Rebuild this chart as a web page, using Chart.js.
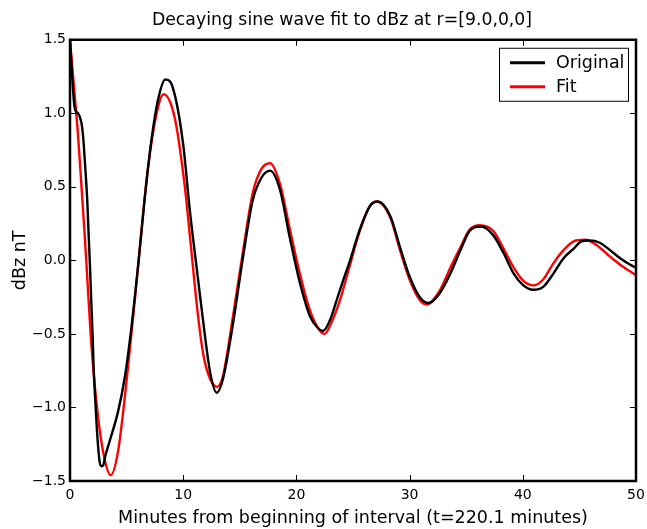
<!DOCTYPE html>
<html>
<head>
<meta charset="utf-8">
<script src="https://cdn.jsdelivr.net/npm/chart.js@4.4.1/dist/chart.umd.min.js"></script>
<style>
  html, body { margin: 0; padding: 0; background: #fff; }
  #wrap { width: 647px; height: 529px; }
</style>
</head>
<body>
<div id="wrap"><canvas id="fit-chart" width="647" height="529"></canvas></div>
<script>
// 原始数据 (minutes, dBz nT)
const originalSeries = [
    [0, 1.50], [0.41, 1.04], [0.71, 1.00], [1.0, 0.94], [1.15, 0.85], [1.35, 0.63],
    [1.53, 0.40], [1.65, 0.17], [1.77, -0.05], [1.88, -0.28], [2.0, -0.51], [2.09, -0.73],
    [2.24, -0.96], [2.41, -1.19], [2.62, -1.37], [2.8, -1.40], [2.95, -1.39], [3.12, -1.33],
    [3.5, -1.23], [4.24, -1.03], [4.83, -0.80], [5.42, -0.46], [6.0, -0.05], [6.6, 0.42],
    [7.18, 0.81], [7.77, 1.09], [8.42, 1.23], [9.1, 1.17], [9.98, 0.80], [10.6, 0.33],
    [11.3, -0.12], [11.9, -0.50], [12.4, -0.77], [12.96, -0.90], [13.5, -0.81], [14.4, -0.43],
    [15.3, 0.03], [16.15, 0.41], [16.9, 0.56], [17.67, 0.61], [18.55, 0.48], [19.4, 0.16],
    [20.3, -0.15], [21.2, -0.38], [21.9, -0.46], [22.35, -0.48], [23.0, -0.40], [23.56, -0.27],
    [24.2, -0.12], [24.7, -0.01], [25.6, 0.21], [26.5, 0.37], [27.2, 0.40], [28.3, 0.30],
    [29.15, 0.09], [30.0, -0.11], [30.9, -0.25], [31.65, -0.29], [32.6, -0.23], [33.6, -0.09],
    [34.5, 0.07], [35.3, 0.20], [36.3, 0.23], [37.4, 0.17], [38.3, 0.05], [39.2, -0.09],
    [40.05, -0.17], [40.9, -0.20], [41.8, -0.18], [42.7, -0.09], [43.6, 0.015], [44.5, 0.08],
    [45.2, 0.13], [45.9, 0.135], [46.8, 0.12], [47.7, 0.07], [48.6, 0.015], [49.5, -0.03],
    [50, -0.05]
];

// 拟合曲线 (minutes, dBz nT)
const fitSeries = [
    [0, 1.50], [0.35, 1.18], [0.71, 0.85], [1.0, 0.52], [1.30, 0.17], [1.55, -0.15],
    [1.83, -0.51], [2.33, -0.96], [2.92, -1.30], [3.59, -1.46], [4.24, -1.30], [5.12, -0.73],
    [6.0, -0.05], [6.89, 0.63], [7.77, 1.04], [8.27, 1.13], [9.25, 0.97], [10.13, 0.51],
    [10.6, 0.16], [11.3, -0.37], [11.8, -0.65], [12.4, -0.81], [13.0, -0.86], [13.5, -0.79],
    [14.4, -0.38], [15.3, 0.07], [16.15, 0.46], [16.9, 0.62], [17.67, 0.66], [18.55, 0.52],
    [19.4, 0.22], [20.3, -0.09], [21.2, -0.34], [22.0, -0.47], [22.5, -0.50], [23.0, -0.44],
    [23.85, -0.27], [24.7, -0.04], [25.6, 0.20], [26.5, 0.37], [27.1, 0.40], [28.3, 0.29],
    [29.15, 0.07], [30.0, -0.13], [30.9, -0.27], [31.5, -0.30], [32.7, -0.20], [33.6, -0.05],
    [34.5, 0.09], [35.3, 0.21], [36.2, 0.24], [37.4, 0.20], [38.3, 0.08], [39.2, -0.05],
    [40.05, -0.14], [40.9, -0.17], [41.8, -0.13], [42.7, -0.02], [43.6, 0.07], [44.5, 0.13],
    [45.5, 0.14], [46.5, 0.105], [47.7, 0.026], [48.6, -0.03], [49.5, -0.076], [50, -0.10]
];

const xTicks = [0, 10, 20, 30, 40, 50];
const yTicks = [-1.5, -1.0, -0.5, 0.0, 0.5, 1.0, 1.5];

const FONT = 'DejaVu Sans';

function toPoints(series) {
    return series.map(p => ({ x: p[0], y: p[1] }));
}

// 标题稍微向左移动（与原图对齐）
const titleShift = {
    id: 'titleShift',
    afterLayout(chart) {
        const tb = chart.titleBlock;
        if (tb) {
            tb.left -= 11;
            tb.right -= 11;
        }
    }
};

// matplotlib 风格：向内的刻度线和黑色边框
const frameTicks = {
    id: 'frameTicks',
    afterDatasetsDraw(chart) {
        const ctx = chart.ctx;
        const a = chart.chartArea;
        const xs = chart.scales.x;
        const ys = chart.scales.y;
        const len = 6;
        ctx.save();
        ctx.strokeStyle = '#000';
        ctx.lineWidth = 1;
        ctx.beginPath();
        xTicks.forEach(v => {
            const px = Math.round(xs.getPixelForValue(v)) + 0.5;
            ctx.moveTo(px, a.bottom); ctx.lineTo(px, a.bottom - len);
            ctx.moveTo(px, a.top); ctx.lineTo(px, a.top + len);
        });
        yTicks.forEach(v => {
            const py = Math.round(ys.getPixelForValue(v)) + 0.5;
            ctx.moveTo(a.left, py); ctx.lineTo(a.left + len, py);
            ctx.moveTo(a.right, py); ctx.lineTo(a.right - len, py);
        });
        ctx.stroke();
        ctx.lineWidth = 2.5;
        ctx.strokeRect(a.left, a.top, a.right - a.left, a.bottom - a.top);
        ctx.restore();
    }
};

// 右上角图例框
const boxLegend = {
    id: 'boxLegend',
    afterDraw(chart) {
        const ctx = chart.ctx;
        const a = chart.chartArea;
        const w = 129, h = 53;
        const x0 = a.right - 8 - w;
        const y0 = a.top + 8;
        ctx.save();
        ctx.fillStyle = '#fff';
        ctx.fillRect(x0, y0, w, h);
        ctx.strokeStyle = '#000';
        ctx.lineWidth = 1;
        ctx.strokeRect(x0 + 0.5, y0 + 0.5, w, h);
        ctx.font = '17.5px "' + FONT + '"';
        ctx.textBaseline = 'middle';
        chart.data.datasets.forEach((ds, i) => {
            const y = y0 + 15 + i * 24;
            ctx.strokeStyle = ds.borderColor;
            ctx.lineWidth = 3;
            ctx.beginPath();
            ctx.moveTo(x0 + 11, y);
            ctx.lineTo(x0 + 46, y);
            ctx.stroke();
            ctx.fillStyle = '#000';
            ctx.fillText(ds.label, x0 + 57, y + 1);
        });
        ctx.restore();
    }
};

new Chart(document.getElementById('fit-chart'), {
    type: 'line',
    data: {
        datasets: [{
            label: 'Original',
            data: toPoints(originalSeries),
            borderColor: '#000000',
            borderWidth: 2.4,
            pointRadius: 0,
            fill: false,
            cubicInterpolationMode: 'monotone'
        }, {
            label: 'Fit',
            data: toPoints(fitSeries),
            borderColor: '#ff0000',
            borderWidth: 2.4,
            pointRadius: 0,
            fill: false,
            cubicInterpolationMode: 'monotone'
        }]
    },
    options: {
        responsive: false,
        animation: false,
        devicePixelRatio: 1,
        layout: { padding: { left: 0, right: 11, top: 0, bottom: 0 } },
        plugins: {
            legend: { display: false },
            tooltip: { enabled: false },
            title: {
                display: true,
                fullSize: false,
                text: 'Decaying sine wave fit to dBz at r=[9.0,0,0]',
                color: '#000',
                font: { family: FONT, size: 17.3, weight: 'normal' },
                padding: { top: 10, bottom: 9 }
            }
        },
        scales: {
            x: {
                type: 'linear',
                min: 0,
                max: 50,
                afterBuildTicks(scale) { scale.ticks = xTicks.map(v => ({ value: v })); },
                afterFit(scale) {
                    scale.height = 48;
                    scale.paddingLeft = 0;
                    scale.paddingRight = 0;
                },
                grid: { display: false, drawTicks: false },
                border: { display: false },
                ticks: {
                    color: '#000',
                    font: { family: FONT, size: 14 },
                    padding: 6,
                    maxRotation: 0,
                    callback: v => String(v)
                },
                title: {
                    display: true,
                    text: 'Minutes from beginning of interval (t=220.1 minutes)',
                    color: '#000',
                    font: { family: FONT, size: 17.5 },
                    padding: { top: 0, bottom: 0 }
                }
            },
            y: {
                type: 'linear',
                min: -1.5,
                max: 1.5,
                afterBuildTicks(scale) { scale.ticks = yTicks.map(v => ({ value: v })); },
                afterFit(scale) { scale.width = 70; },
                grid: { display: false, drawTicks: false },
                border: { display: false },
                ticks: {
                    color: '#000',
                    font: { family: FONT, size: 14 },
                    padding: 4,
                    callback: v => v.toFixed(1).replace('-', '\u2212')
                },
                title: {
                    display: true,
                    text: 'dBz nT',
                    color: '#000',
                    font: { family: FONT, size: 17.5 },
                    padding: { top: 10, bottom: 0 }
                }
            }
        }
    },
    plugins: [titleShift, frameTicks, boxLegend]
});
</script>
</body>
</html>
